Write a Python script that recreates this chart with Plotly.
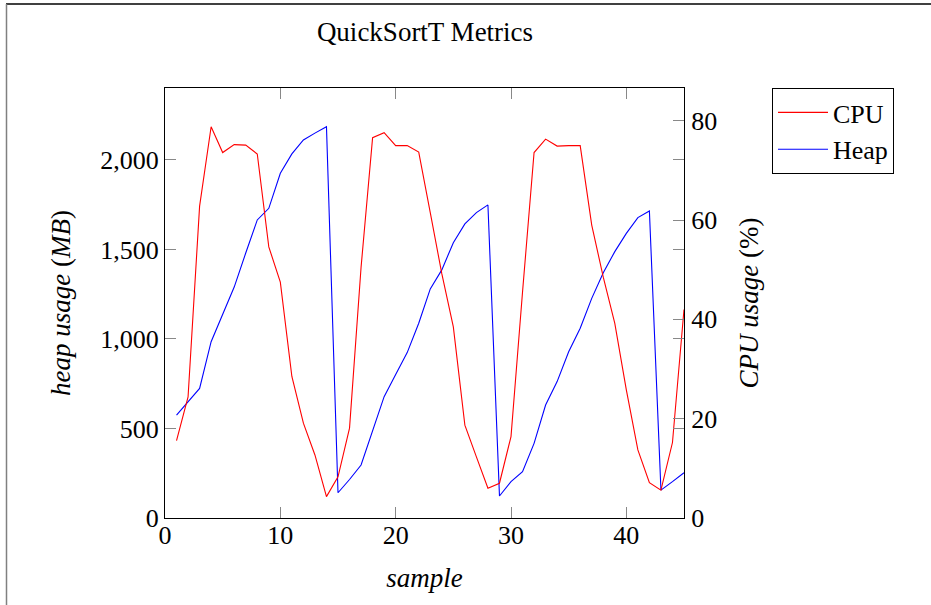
import plotly.graph_objects as go

samples = list(range(1, 46))
cpu = [15.6, 24.4, 62.8, 78.8, 73.6, 75.2, 75.1, 73.3, 54.6, 47.5,
       28.5, 19.1, 12.7, 4.3, 8.3, 18.1, 50.5, 76.6, 77.6, 75.0,
       75.0, 73.7, 61.5, 49.2, 38.5, 18.7, 12.3, 6.0, 7.0, 16.4,
       45.5, 73.6, 76.3, 74.9, 75.0, 75.0, 59.0, 48.5, 39.2, 25.8,
       13.7, 7.1, 5.6, 15.2, 42.0]
heap = [575, 650, 724, 985, 1140, 1290, 1480, 1665, 1730, 1926,
        2034, 2112, 2150, 2186, 141, 215, 296, 486, 678, 801,
        924, 1088, 1280, 1386, 1538, 1643, 1706, 1749, 123, 203,
        259, 417, 631, 762, 929, 1060, 1227, 1370, 1488, 1590,
        1678, 1715, 156, 203, 253]

x_ticks = [0, 10, 20, 30, 40]
heap_ticks = [0, 500, 1000, 1500, 2000]
cpu_ticks = [0, 20, 40, 60, 80]

FONT = "Liberation Serif"
W, H = 931, 605
L, R, T, B = 165, 684, 88, 518

fig = go.Figure()
fig.add_trace(go.Scatter(x=samples, y=cpu, name="CPU", yaxis="y2", mode="lines",
                         line=dict(color="#ff0000", width=1.1)))
fig.add_trace(go.Scatter(x=samples, y=heap, name="Heap", yaxis="y", mode="lines",
                         line=dict(color="#0000ff", width=1.1)))

axis_common = dict(showgrid=False, zeroline=False, showline=True, linecolor="black",
                   linewidth=1.2, ticks="inside", ticklen=11, tickcolor="#888888",
                   tickwidth=1, tickfont=dict(family=FONT, size=26, color="black"))

fig.update_layout(
    width=W, height=H,
    margin=dict(l=L, r=W - R, t=T, b=H - B, autoexpand=False),
    paper_bgcolor="white", plot_bgcolor="white",
    font=dict(family=FONT, size=26, color="black"),
    title=dict(text="QuickSortT Metrics", x=425 / W, xanchor="center",
               y=1 - 32 / H, yanchor="middle", yref="container",
               font=dict(family=FONT, size=27, color="black")),
    xaxis=dict(range=[0, 45], tickvals=x_ticks, mirror="ticks",
               ticklabelstandoff=-6,
               title=dict(text="<i>sample</i>", font=dict(family=FONT, size=27), standoff=18),
               **axis_common),
    yaxis=dict(range=[0, 2402], tickvals=heap_ticks, tickformat=",", mirror="ticks",
               ticklabelstandoff=0,
               title=dict(text="<i>heap usage</i> (<i>MB</i>)", font=dict(family=FONT, size=27), standoff=21),
               **axis_common),
    yaxis2=dict(range=[0, 86.6], tickvals=cpu_ticks, overlaying="y", side="right",
                ticklabelstandoff=1,
                title=dict(text="<i>CPU usage</i> (%)", font=dict(family=FONT, size=27), standoff=22),
                **axis_common),
    legend=dict(x=(772 - L) / (R - L), xanchor="left", y=1.0, yanchor="top",
                bordercolor="black", borderwidth=1, bgcolor="white",
                font=dict(family=FONT, size=26, color="black"),
                tracegroupgap=0, itemwidth=50,
                entrywidthmode="pixels", entrywidth=120),
    showlegend=True,
)

px_w = R - L
px_h = B - T
def px2x(p):
    return (p - L) / px_w
def px2y(p):
    return (B - p) / px_h

fig.add_shape(type="line", xref="paper", yref="paper",
              x0=px2x(6), x1=px2x(935), y0=px2y(4), y1=px2y(4),
              line=dict(color="black", width=1.5))
fig.add_shape(type="line", xref="paper", yref="paper",
              x0=px2x(6.5), x1=px2x(6.5), y0=px2y(4), y1=px2y(610),
              line=dict(color="#808080", width=1.5))

fig.write_html("out.html", config={"displayModeBar": False},
               post_script="document.body.style.margin='0';")
